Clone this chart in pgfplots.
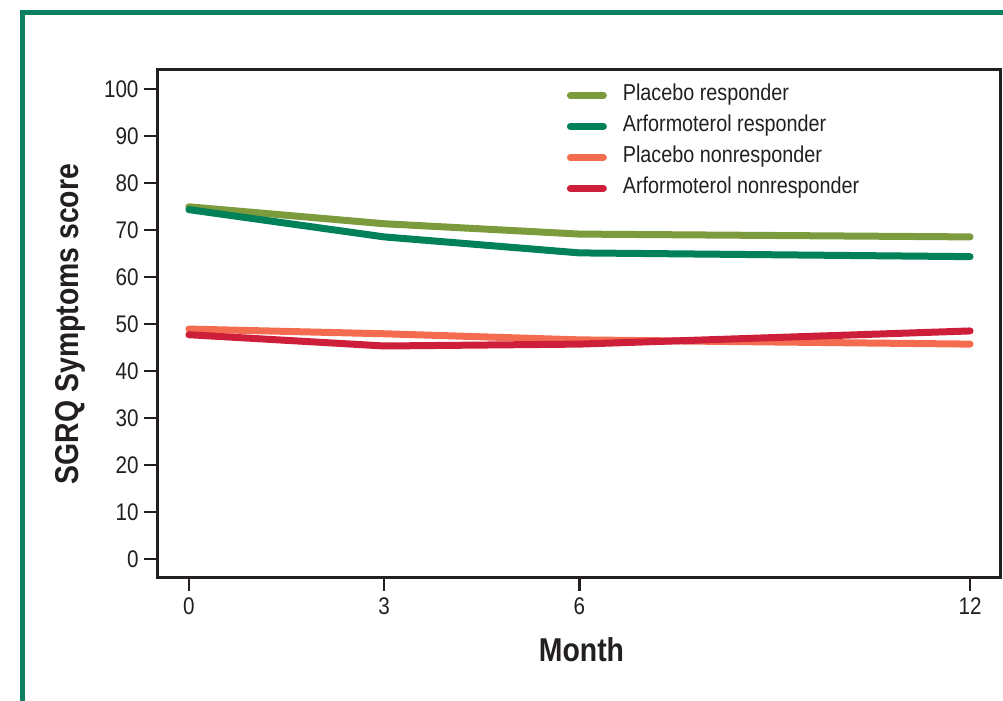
\documentclass[border=0pt]{standalone}
\usepackage{fontspec}
\setmainfont{Liberation Sans}[FakeStretch=0.86]
\usepackage{pgfplots}
\pgfplotsset{compat=1.18}
\definecolor{frameg}{HTML}{0C8060}
\definecolor{cPR}{HTML}{7B9B3C}
\definecolor{cAR}{HTML}{00815A}
\definecolor{cPN}{HTML}{F36C4F}
\definecolor{cAN}{HTML}{CD1F3A}
\definecolor{axc}{HTML}{231F20}
\begin{document}
\begin{tikzpicture}[x=1bp,y=1bp]
\useasboundingbox (0,0) rectangle (1003,701);
\draw[frameg,line width=5bp] (22,0) -- (22,688) -- (1003,688);
\begin{axis}[
  at={(157bp,123bp)}, anchor=south west,
  scale only axis, width=843bp, height=508bp,
  xmin=-0.49, xmax=12.46, ymin=-4.04, ymax=104.0,
  xtick={0,3,6,12}, ytick={0,10,...,100},
  xtick pos=bottom, ytick pos=left,
  tick align=outside, major tick length=13bp,
  tick style={axc,line width=2.5bp},
  axis line style={axc,line width=3bp},
  /pgf/number format/assume math mode=true,
  ticklabel style={font=\fontsize{24bp}{26bp}\selectfont, text=axc},
  xticklabel style={yshift=-3bp},
  yticklabel style={xshift=-2bp},
  xlabel={\textbf{Month}},
  ylabel={\textbf{SGRQ Symptoms score}},
  label style={font=\fontsize{33bp}{35bp}\selectfont, text=axc},
  xlabel style={yshift=-16bp, xshift=3bp},
  ylabel style={yshift=12bp},
  legend style={draw=none, fill=none, at={(0.486,0.971)}, anchor=north west,
    font=\fontsize{23bp}{26bp}\selectfont, text=axc, inner sep=0pt,
    row sep=10bp,
    nodes={inner xsep=0pt, inner ysep=0pt, text height=16bp, text depth=5bp},
    /tikz/every odd column/.append style={column sep=16bp}},
  legend cell align=left,
  legend image code/.code={\draw[#1,line width=7bp,line cap=round] (3.5bp,0bp) -- (36.5bp,0bp);},
  every axis plot/.append style={line width=7bp, line cap=round, line join=round},
]
\addplot[cPR] coordinates {(0,74.9) (3,71.3) (6,69.1) (12,68.5)};
\addlegendentry{Placebo responder}
\addplot[cAR] coordinates {(0,74.3) (3,68.5) (6,65.1) (12,64.3)};
\addlegendentry{Arformoterol responder}
\addplot[cPN] coordinates {(0,48.9) (3,47.9) (6,46.6) (12,45.7)};
\addlegendentry{Placebo nonresponder}
\addplot[cAN] coordinates {(0,47.7) (3,45.3) (6,45.7) (12,48.5)};
\addlegendentry{Arformoterol nonresponder}
\end{axis}
\end{tikzpicture}
\end{document}
